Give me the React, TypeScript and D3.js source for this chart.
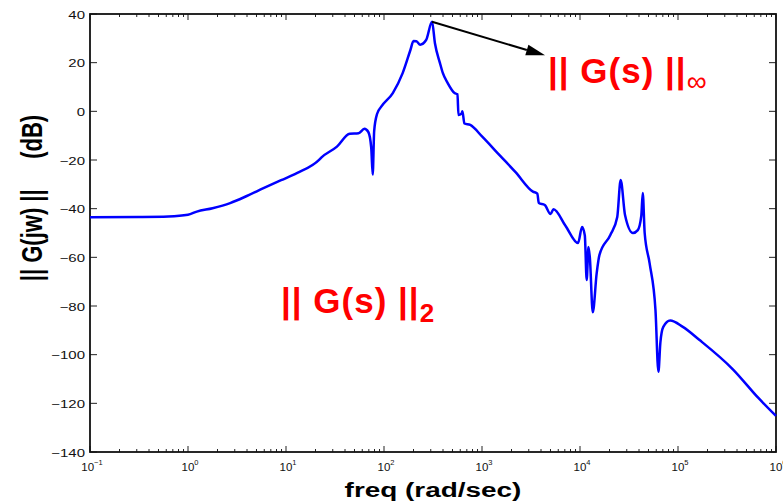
import React, { useEffect, useRef } from "react";
import * as d3 from "d3";

// frequency (rad/sec) and magnitude (dB)
const freq = [
  0.1, 0.316, 0.631, 1, 1.23, 1.78, 2.69, 3.98, 5.89, 8.91, 12.9, 21.9, 22.9, 33.1,
  44.7, 55.0, 63.1, 69.2, 74.1, 76.7, 79.4, 85.1, 93.3, 123, 155, 186, 200, 214, 234,
  269, 309, 331, 372, 398, 447, 525, 562, 575, 617, 631, 661, 759, 1000, 1510, 2200, 3310,
  3670, 3800, 4370, 5010, 5370, 7080, 9550, 10500, 11200, 11700, 12200, 12600, 13500,
  14800, 15800, 20400, 24000, 26000, 28800, 34700, 38900, 42200, 43700, 45700, 51300,
  58900, 63100, 66100, 70800, 83200, 112000, 166000, 363000, 661000, 1000000
];
const magDb = [
  -43.5, -43.4, -43.2, -42.5, -41.2, -39.8, -37.7, -34.8, -31.6, -28.3, -25.4, -19.8,
  -19.0, -14.5, -9.2, -9.0, -7.2, -8.5, -15, -26, -8, -1, 1.8, 7.5, 15.7, 25.2, 28.9,
  28.8, 27.4, 29.3, 36.8, 28, 19.9, 15.8, 11.6, 7.5, 7.0, -1.5, -1.0, 0.0, -5, -5.6,
  -10.3, -18, -25, -33, -33.8, -37.7, -38.5, -42.2, -40.2, -46.9, -54.1, -47.5, -51,
  -69.3, -55.8, -60, -82.6, -66.5, -59, -50.8, -43.4, -28.2, -42.6, -50, -48.8, -43,
  -33.6, -50, -62.4, -81.7, -107, -95, -88.6, -86, -88.6, -94, -106, -117.8, -125.2
];
const yTicks = [40, 20, 0, -20, -40, -60, -80, -100, -120, -140];
const xExponents = [-1, 0, 1, 2, 3, 4, 5, 6];
// arrow tip (freq, dB) for the H-infinity annotation
const arrowTip = [4400, 23];

const W = 783, H = 503;
const margin = { top: 14, right: 7, bottom: 51, left: 90 };
const font = "'Liberation Sans', Arial, Helvetica, sans-serif";
const stretch = 1.36; // the original figure is stretched horizontally

export default function App() {
  const ref = useRef<SVGSVGElement>(null);

  useEffect(() => {
    const svg = d3.select(ref.current);
    svg.selectAll("*").remove();

    const x = d3.scaleLog().domain([0.1, 1e6]).range([margin.left, W - margin.right]);
    const y = d3.scaleLinear().domain([-140, 40]).range([H - margin.bottom, margin.top]);
    const [x0, x1] = x.range();
    const [y0, y1] = y.range();

    // minor + major log ticks (top & bottom, inward)
    const logTicks: { v: number; major: boolean }[] = [];
    for (let e = -1; e < 6; e++) {
      for (let k = 1; k < 10; k++) logTicks.push({ v: k * Math.pow(10, e), major: k === 1 });
    }
    logTicks.push({ v: 1e6, major: true });

    const g = svg.append("g");
    logTicks.forEach(t => {
      const len = t.major ? 6 : 3;
      g.append("line").attr("x1", x(t.v)).attr("x2", x(t.v)).attr("y1", y0).attr("y2", y0 - len)
        .attr("stroke", "#222").attr("stroke-width", 1);
      g.append("line").attr("x1", x(t.v)).attr("x2", x(t.v)).attr("y1", y1).attr("y2", y1 + len)
        .attr("stroke", "#222").attr("stroke-width", 1);
    });
    yTicks.forEach(v => {
      g.append("line").attr("x1", x0).attr("x2", x0 + 7).attr("y1", y(v)).attr("y2", y(v))
        .attr("stroke", "#222").attr("stroke-width", 1);
      g.append("line").attr("x1", x1).attr("x2", x1 - 7).attr("y1", y(v)).attr("y2", y(v))
        .attr("stroke", "#222").attr("stroke-width", 1);
      g.append("text").attr("transform", `translate(${x0 - 5},${y(v) + 4.5}) scale(${stretch},1)`)
        .attr("text-anchor", "end").attr("font-family", font).attr("font-size", 11).attr("fill", "#111")
        .text(v < 0 ? "\u2212" + Math.abs(v) : String(v));
    });
    xExponents.forEach(e => {
      const t = g.append("text").attr("x", x(Math.pow(10, e)) + 2).attr("y", y0 + 19)
        .attr("text-anchor", "middle").attr("font-family", font).attr("font-size", 11.5).attr("fill", "#111");
      t.append("tspan").text("10");
      t.append("tspan").attr("font-size", 7.5).attr("dy", -6).text(e < 0 ? "\u2212" + Math.abs(e) : String(e));
    });

    // frame
    svg.append("rect").attr("x", x0).attr("y", y1).attr("width", x1 - x0).attr("height", y0 - y1)
      .attr("fill", "none").attr("stroke", "#111").attr("stroke-width", 1.8);

    const pts = freq.map((f, i) => [f, magDb[i]] as [number, number]);
    const line = d3.line<[number, number]>().x(d => x(d[0])).y(d => y(d[1])).curve(d3.curveMonotoneX);
    svg.append("path").attr("d", line(pts)).attr("fill", "none").attr("stroke", "#0000ff")
      .attr("stroke-width", 2.5).attr("stroke-linejoin", "round");

    // arrow from the peak to the H-infinity label
    const iPeak = d3.maxIndex(magDb);
    const ax = x(freq[iPeak]), ay = y(magDb[iPeak]);
    const tipX = x(arrowTip[0]), tipY = y(arrowTip[1]);
    const ang = Math.atan2(tipY - ay, tipX - ax);
    const hl = 19, hw = 5.5;
    const baseX = tipX - hl * Math.cos(ang), baseY = tipY - hl * Math.sin(ang);
    svg.append("line").attr("x1", ax).attr("y1", ay).attr("x2", baseX).attr("y2", baseY)
      .attr("stroke", "#000").attr("stroke-width", 2);
    svg.append("path")
      .attr("d", `M${tipX},${tipY}L${baseX - hw * Math.sin(ang)},${baseY + hw * Math.cos(ang)}L${baseX + hw * Math.sin(ang)},${baseY - hw * Math.cos(ang)}Z`)
      .attr("fill", "#000");

    const hinf = svg.append("text").attr("x", 548).attr("y", 83).attr("font-family", font)
      .attr("font-weight", "bold").attr("font-size", 35).attr("fill", "#ff0000")
      .attr("letter-spacing", 1).style("white-space", "pre");
    hinf.append("tspan").text("|| G(s) ||");
    hinf.append("tspan").attr("font-size", 28).attr("font-weight", "normal").attr("dy", 8).text("\u221e");

    const h2 = svg.append("text").attr("x", 281).attr("y", 313).attr("font-family", font)
      .attr("font-weight", "bold").attr("font-size", 35).attr("fill", "#ff0000")
      .attr("letter-spacing", 1).style("white-space", "pre");
    h2.append("tspan").text("|| G(s) ||");
    h2.append("tspan").attr("font-size", 26).attr("dy", 9).text("2");

    svg.append("text").attr("transform", `translate(42,198) scale(${stretch},1) rotate(-90)`)
      .attr("text-anchor", "middle")
      .attr("font-family", font).attr("font-weight", "bold").attr("font-size", 22).attr("fill", "#000")
      .style("white-space", "pre").text("|| G(jw) ||     (dB)");

    svg.append("text").attr("transform", `translate(${(x0 + x1) / 2},497) scale(${stretch - 0.03},1)`)
      .attr("text-anchor", "middle")
      .attr("font-family", font).attr("font-weight", "bold").attr("font-size", 21).attr("fill", "#000")
      .text("freq (rad/sec)");
  }, []);

  return (
    <div style={{ position: "absolute", left: 0, top: 0 }}>
      <svg ref={ref} width={W} height={H} style={{ display: "block", background: "#fff" }} />
    </div>
  );
}
